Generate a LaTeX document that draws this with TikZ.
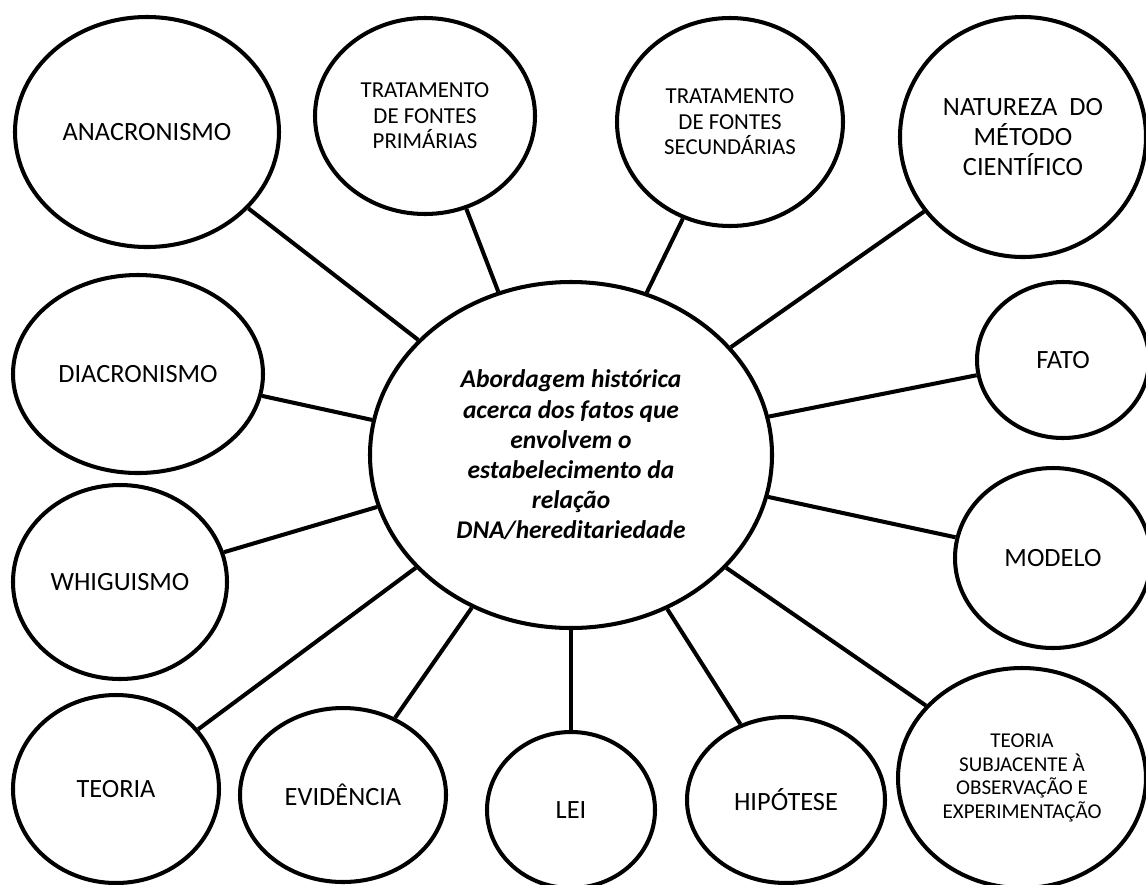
\documentclass[tikz,border=0pt]{standalone}
\usepackage{fontspec}
\setmainfont{Carlito}
\usetikzlibrary{shapes.geometric}

\begin{document}
\begin{tikzpicture}[x=0.2mm, y=-0.2mm, line width=2.3pt,
    bubble/.style={ellipse, draw, align=center, inner sep=0pt, font=\fontsize{15}{17}\selectfont},
    smalltext/.style={font=\fontsize{13}{14.5}\selectfont}]
  \useasboundingbox (0,0) rectangle (1146,884);

  \node[bubble, minimum width=80.4mm, minimum height=69.2mm, font=\fontsize{14.5}{17.2}\selectfont\bfseries\itshape] (centro) at (571,455) {Abordagem histórica\\acerca dos fatos que\\envolvem o\\estabelecimento da\\relação\\DNA/hereditariedade};

  \node[bubble, minimum width=52.8mm, minimum height=46mm] (anacro) at (147,132) {ANACRONISMO};
  \node[bubble, smalltext, minimum width=44mm, minimum height=39.2mm] (primarias) at (425,116) {TRATAMENTO\\DE FONTES\\PRIMÁRIAS};
  \node[bubble, smalltext, minimum width=45.2mm, minimum height=41.6mm] (secundarias) at (730,122) {TRATAMENTO\\DE FONTES\\SECUNDÁRIAS};
  \node[bubble, minimum width=49.2mm, minimum height=48mm] (natureza) at (1023,137) {NATUREZA\ \ DO\\MÉTODO\\CIENTÍFICO};
  \node[bubble, minimum width=50mm, minimum height=39.6mm] (diacro) at (138,374) {DIACRONISMO};
  \node[bubble, minimum width=34.4mm, minimum height=31.2mm] (fato) at (1063,360) {FATO};
  \node[bubble, minimum width=42.8mm, minimum height=38.8mm] (whig) at (120,582) {WHIGUISMO};
  \node[bubble, minimum width=39.2mm, minimum height=36mm] (modelo) at (1053,558) {MODELO};
  \node[bubble, minimum width=41.2mm, minimum height=37.6mm] (teoria) at (116,789) {TEORIA};
  \node[bubble, minimum width=41.2mm, minimum height=34.8mm] (evid) at (343,795) {EVIDÊNCIA};
  \node[bubble, minimum width=33.6mm, minimum height=31.2mm] (lei) at (571,810) {LEI};
  \node[bubble, minimum width=39.6mm, minimum height=33.2mm] (hip) at (786,800) {HIPÓTESE};
  \node[bubble, minimum width=49.6mm, minimum height=44mm, font=\fontsize{12}{13.4}\selectfont] (subj) at (1022,778) {TEORIA\\SUBJACENTE À\\OBSERVAÇÃO E\\EXPERIMENTAÇÃO};

  \draw (centro.143) -- (anacro.-37);
  \draw (centro.114) -- (primarias.-66);
  \draw (centro.65) -- (secundarias.-116);
  \draw (centro.34) -- (natureza.-143);
  \draw (centro.11) -- (fato.-170);
  \draw (centro.-12) -- (modelo.168);
  \draw (centro.-36) -- (subj.143);
  \draw (centro.-58) -- (hip.121);
  \draw (centro.-90) -- (lei.90);
  \draw (centro.-123) -- (evid.56);
  \draw (centro.-144) -- (teoria.36);
  \draw (centro.-165) -- (whig.16);
  \draw (centro.170) -- (diacro.-10);
\end{tikzpicture}
\end{document}
